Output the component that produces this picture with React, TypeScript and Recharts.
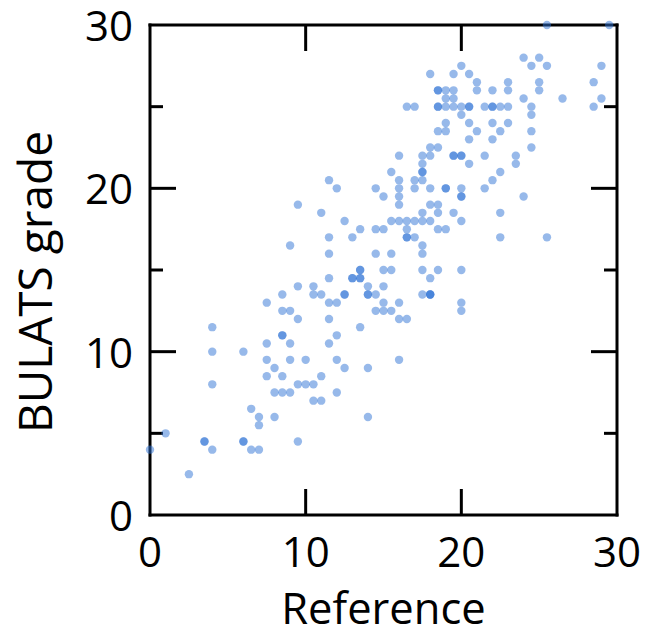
import { Label, ReferenceLine, Scatter, ScatterChart, XAxis, YAxis } from 'recharts'

// tick values
const referenceTicks = [0, 10, 20, 30]
const gradeLabelTicks = [0, 5, 10, 15, 20, 25, 30]
const innerReferenceTicks = [10, 20]
const innerGradeTicks = [5, 10, 15, 20, 25]

// BULATS grade levels (y), and the reference scores (x) seen at each level
const bulatsGrades = [
	30, 28, 27.5, 27, 26.5, 26, 25.5, 25, 24.5, 24, 23.5, 23, 22.5, 22, 21.5, 21,
	20.5, 20, 19.5, 19, 18.5, 18, 17.5, 17, 16.5, 16, 15, 14.5, 14, 13.5, 13, 12.5,
	12, 11.5, 11, 10.5, 10, 9.5, 9, 8.5, 8, 7.5, 7, 6.5, 6, 5.5, 5, 4.5, 4, 2.5,
]

const referenceAtGrade = [
	[25.5, 29.5],
	[24, 25],
	[20, 24.5, 25.5, 29],
	[18, 19.5, 20.5],
	[21, 23, 25, 28.5],
	[18.5, 18.5, 19, 19.5, 21, 22, 23, 25],
	[19, 19.5, 24, 26.5, 29],
	[16.5, 17, 18.5, 18.5, 19, 19.5, 20, 20.5, 20.5, 21.5, 22, 22, 22.5, 23, 24.5, 28.5],
	[20, 24.5],
	[19, 20.5, 22, 23],
	[18.5, 19, 21, 22.5, 24.5],
	[20.5, 22],
	[18, 18.5, 24.5],
	[16, 17.5, 18, 19.5, 19.5, 20, 20, 21.5, 23.5],
	[17.5, 20.5, 23.5],
	[15.5, 17.5, 17.5, 22.5],
	[11.5, 16, 17, 17.5, 22],
	[12, 14.5, 16, 17, 18, 19, 19, 20, 21.5],
	[15, 16, 20, 20, 24],
	[9.5, 16, 18, 18.5],
	[11, 17.5, 18.5, 19.5, 22.5],
	[12.5, 15.5, 16, 16.5, 17, 17.5, 18, 20],
	[13.5, 14.5, 15, 16.5, 18.5, 19],
	[11.5, 13, 16.5, 16.5, 17, 22.5, 25.5],
	[9, 17.5],
	[11.5, 14.5, 15.5, 17.5],
	[13.5, 13.5, 15, 15.5, 17.5, 18.5, 20],
	[11.5, 13, 13, 13.5, 13.5, 18],
	[9.5, 10.5, 14, 15],
	[8.5, 10.5, 11, 12.5, 12.5, 14, 14, 14.5, 17.5, 18, 18, 18],
	[7.5, 11.5, 12, 15, 16, 20],
	[8.5, 9, 14.5, 15, 15.5, 20],
	[9.5, 11.5, 16, 16.5],
	[4, 13.5],
	[8.5, 8.5, 12],
	[7.5, 9, 11.5],
	[4, 6],
	[7.5, 9, 10, 12, 16],
	[8, 12.5, 14],
	[7.5, 8.5, 11],
	[4, 9.5, 10, 10.5],
	[8, 8.5, 9, 12],
	[10.5, 11],
	[6.5],
	[7, 8, 14],
	[7],
	[1],
	[3.5, 3.5, 6, 6, 9.5],
	[0, 4, 6.5, 7],
	[2.5],
]

const points = bulatsGrades.flatMap((grade, i) =>
	referenceAtGrade[i].map((reference) => ({ reference, grade })),
)

// inward tick marks, placed through the scales like the dots
const bottomTickMarks = innerReferenceTicks.map((reference) => ({ reference, grade: 0 }))
const topTickMarks = innerReferenceTicks.map((reference) => ({ reference, grade: 30 }))
const leftTickMarks = innerGradeTicks.map((grade) => ({ reference: 0, grade }))
const rightTickMarks = innerGradeTicks.map((grade) => ({ reference: 30, grade }))

const FONT = '"Open Sans", "DejaVu Sans", sans-serif'
const INK = '#000'
const STROKE = 3
const MAX = 30

function BottomTick({ x, y, payload }: any) {
	return (
		<text x={x} y={y + 52} textAnchor="middle" fontSize={42} fontFamily={FONT} fill={INK}>
			{payload.value}
		</text>
	)
}

function LeftTick({ x, y, payload }: any) {
	const v = payload.value as number
	if (v % 10 !== 0) return <g />
	return (
		<text x={x - 17} y={y + 16} textAnchor="end" fontSize={42} fontFamily={FONT} fill={INK}>
			{v}
		</text>
	)
}

function Dot({ cx, cy }: any) {
	return <circle cx={cx} cy={cy} r={4.2} fill="#2f74d6" fillOpacity={0.5} />
}

// a tick mark shape: dx/dy give the inward direction
function tickShape(dx: number, dy: number) {
	return (props: any) => {
		const { cx, cy, payload } = props
		const v = dx !== 0 ? payload.grade : payload.reference
		const len = v % 10 === 0 ? 26 : 13
		return (
			<path
				d={`M${cx},${cy}l${dx * len},${dy * len}`}
				stroke={INK}
				strokeWidth={STROKE}
				fill="none"
			/>
		)
	}
}

const axisLine = { stroke: INK, strokeWidth: STROKE, strokeLinecap: 'square' as const }

export default function App() {
	return (
		<div style={{ position: 'absolute', left: 0, top: 0, background: '#fff' }}>
			<ScatterChart width={647} height={633} margin={{ top: 0, right: 0, bottom: 0, left: 0 }}>
				<XAxis
					type="number"
					dataKey="reference"
					domain={[0, MAX]}
					ticks={referenceTicks}
					interval={0}
					height={118}
					tickSize={0}
					tickMargin={0}
					tickLine={false}
					axisLine={axisLine}
					tick={<BottomTick />}
				>
					<Label
						value="Reference"
						position="insideBottom"
						offset={9}
						fontSize={43.5}
						fontFamily={FONT}
						fill={INK}
					/>
				</XAxis>
				<XAxis
					xAxisId="top"
					orientation="top"
					type="number"
					domain={[0, MAX]}
					height={25}
					tick={false}
					tickLine={false}
					axisLine={axisLine}
				/>
				<YAxis
					type="number"
					dataKey="grade"
					domain={[0, MAX]}
					ticks={gradeLabelTicks}
					interval={0}
					width={150}
					tickSize={0}
					tickMargin={0}
					tickLine={false}
					axisLine={axisLine}
					tick={<LeftTick />}
				>
					<Label
						content={({ viewBox }: any) => {
							const cx = viewBox.x + 52
							const cy = viewBox.y + viewBox.height / 2 + 12
							return (
								<text
									x={cx}
									y={cy}
									transform={`rotate(-90, ${cx}, ${cy})`}
									textAnchor="middle"
									fontSize={46}
									fontFamily={FONT}
									fill={INK}
								>
									BULATS grade
								</text>
							)
						}}
					/>
				</YAxis>
				<YAxis
					yAxisId="right"
					orientation="right"
					type="number"
					domain={[0, MAX]}
					width={30}
					tick={false}
					tickLine={false}
					axisLine={axisLine}
				/>
				<Scatter data={bottomTickMarks} shape={tickShape(0, -1)} isAnimationActive={false} />
				<Scatter data={topTickMarks} shape={tickShape(0, 1)} isAnimationActive={false} />
				<Scatter data={leftTickMarks} shape={tickShape(1, 0)} isAnimationActive={false} />
				<Scatter data={rightTickMarks} shape={tickShape(-1, 0)} isAnimationActive={false} />
				<Scatter data={points} shape={<Dot />} isAnimationActive={false} />
			</ScatterChart>
		</div>
	)
}
